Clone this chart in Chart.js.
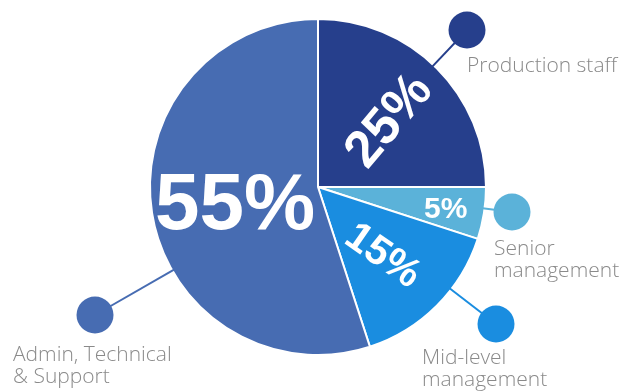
<!DOCTYPE html>
<html>
<head>
<meta charset="utf-8">
<script src="https://cdn.jsdelivr.net/npm/chart.js@4.4.1/dist/chart.umd.min.js"></script>
<style>
    html, body { margin: 0; padding: 0; background: #ffffff; }
    #wrap { width: 641px; height: 392px; }
</style>
</head>
<body>
<div id="wrap"><canvas id="staffChart" width="641" height="392"></canvas></div>
<script>
// Staff breakdown by group (percent)
const categories = ['Production staff', 'Senior management', 'Mid-level management', 'Admin, Technical & Support'];
const shares = [25, 5, 15, 55];
const labelLines = [
    ['Production staff'],
    ['Senior', 'management'],
    ['Mid-level', 'management'],
    ['Admin, Technical', '& Support']
];
const colors = ['#263f8c', '#5bb2d9', '#1a8de0', '#476cb2'];

// percent labels inside the slices: font size, rotation (deg), distance as fraction of radius
const pctSize = [52, 30, 41, 80];
const pctRotate = [-50, 0, 35, 0];
const pctDist = [0.575, 0.77, 0.56, 0.5];

// callout bubbles and their captions
const bubbles = [
    { x: 467, y: 30, tx: 467, ty: 72 },
    { x: 512, y: 212, tx: 494, ty: 255 },
    { x: 496, y: 324, tx: 422, ty: 364 },
    { x: 95, y: 315, tx: 13, ty: 361 }
];

const calloutPlugin = {
    id: 'callouts',
    afterDatasetsDraw(chart) {
        const ctx = chart.ctx;
        const arcs = chart.getDatasetMeta(0).data;
        ctx.save();
        arcs.forEach((arc, i) => {
            const cx = arc.x, cy = arc.y, r = arc.outerRadius;
            const b = bubbles[i];
            // connector from the rim toward the bubble
            const dx = b.x - cx, dy = b.y - cy;
            const len = Math.sqrt(dx * dx + dy * dy);
            ctx.strokeStyle = colors[i];
            ctx.lineWidth = 2;
            ctx.beginPath();
            ctx.moveTo(cx + dx / len * (r - 2), cy + dy / len * (r - 2));
            ctx.lineTo(b.x, b.y);
            ctx.stroke();
            ctx.fillStyle = colors[i];
            ctx.beginPath();
            ctx.arc(b.x, b.y, 18.5, 0, Math.PI * 2);
            ctx.fill();

            // caption
            ctx.fillStyle = '#8a8a8a';
            ctx.font = '300 21px "Open Sans", sans-serif';
            ctx.textAlign = 'left';
            ctx.textBaseline = 'alphabetic';
            labelLines[i].forEach((line, k) => {
                ctx.fillText(line, b.tx, b.ty + k * 22);
            });

            // percentage inside the slice
            const mid = (arc.startAngle + arc.endAngle) / 2;
            const px = cx + Math.cos(mid) * r * pctDist[i];
            const py = cy + Math.sin(mid) * r * pctDist[i];
            ctx.save();
            ctx.translate(px, py);
            ctx.rotate(pctRotate[i] * Math.PI / 180);
            ctx.fillStyle = '#ffffff';
            ctx.font = 'bold ' + pctSize[i] + 'px "Liberation Sans", Arial, sans-serif';
            ctx.textAlign = 'center';
            ctx.fillText(shares[i] + '%', 0, pctSize[i] * 0.36);
            ctx.restore();
        });
        ctx.restore();
    }
};

const ctx = document.getElementById('staffChart').getContext('2d');
new Chart(ctx, {
    type: 'pie',
    data: {
        labels: categories,
        datasets: [{
            data: shares,
            backgroundColor: colors,
            borderColor: '#ffffff',
            borderWidth: 2
        }]
    },
    options: {
        responsive: false,
        animation: false,
        radius: 168,
        layout: { padding: { left: 100, right: 105, top: 10, bottom: 28 } },
        plugins: {
            legend: { display: false },
            tooltip: { enabled: false }
        }
    },
    plugins: [calloutPlugin]
});
</script>
</body>
</html>
